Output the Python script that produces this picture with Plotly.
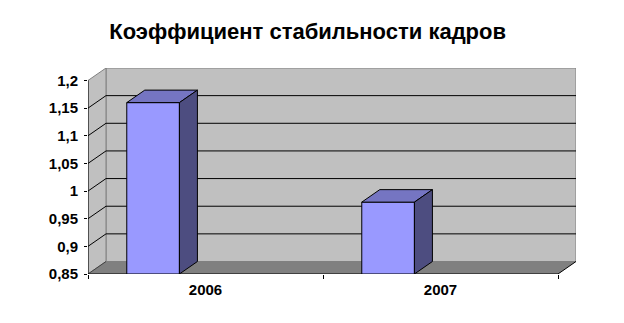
import plotly.graph_objects as go

categories = ["2006", "2007"]
values = [1.16, 0.98]
y_ticks = [0.85, 0.9, 0.95, 1.0, 1.05, 1.1, 1.15, 1.2]
y_labels = ["0,85", "0,9", "0,95", "1", "1,05", "1,1", "1,15", "1,2"]
title_text = "Коэффициент стабильности кадров"

ymin, ymax = y_ticks[0], y_ticks[-1]
ddx, ddy = 0.0766, 0.0226          # 3D depth offsets in data units
xpos = list(range(len(categories)))
x0, x1 = -0.5, len(categories) - 0.5
bar_off, bar_w = -0.335, 0.224

FONT = "Liberation Sans, Arial, sans-serif"

fig = go.Figure()

# front faces
fig.add_trace(go.Bar(
    x=xpos, y=[v - ymin for v in values], base=ymin,
    width=bar_w, offset=bar_off,
    marker=dict(color="#9999ff", line=dict(color="black", width=1)),
    hoverinfo="skip", showlegend=False))

for xi, v in zip(xpos, values):
    L = xi + bar_off
    R = L + bar_w
    fig.add_trace(go.Scatter(
        x=[L, R, R + ddx, L + ddx, L], y=[v, v, v + ddy, v + ddy, v],
        fill="toself", fillcolor="#7575c2", mode="lines",
        line=dict(color="black", width=1), hoverinfo="skip", showlegend=False))
    fig.add_trace(go.Scatter(
        x=[R, R + ddx, R + ddx, R, R], y=[ymin, ymin + ddy, v + ddy, v, ymin],
        fill="toself", fillcolor="#4d4d80", mode="lines",
        line=dict(color="black", width=1), hoverinfo="skip", showlegend=False))

shapes = []
# back wall
shapes.append(dict(type="rect", xref="x", yref="y", layer="below",
                   x0=x0 + ddx, x1=x1 + ddx, y0=ymin + ddy, y1=ymax + ddy,
                   fillcolor="#c0c0c0", line=dict(color="#808080", width=1)))
# side wall
shapes.append(dict(type="path", xref="x", yref="y", layer="below",
                   path=f"M{x0},{ymin} L{x0 + ddx},{ymin + ddy} L{x0 + ddx},{ymax + ddy} L{x0},{ymax} Z",
                   fillcolor="#c0c0c0", line=dict(color="#808080", width=1)))
# gridlines
for t in y_ticks[1:-1]:
    shapes.append(dict(type="line", xref="x", yref="y", layer="below",
                       x0=x0 + ddx, x1=x1 + ddx, y0=t + ddy, y1=t + ddy,
                       line=dict(color="black", width=1)))
    shapes.append(dict(type="line", xref="x", yref="y", layer="below",
                       x0=x0, x1=x0 + ddx, y0=t, y1=t + ddy,
                       line=dict(color="black", width=1)))
# floor
shapes.append(dict(type="path", xref="x", yref="y", layer="below",
                   path=f"M{x0},{ymin} L{x1},{ymin} L{x1 + ddx},{ymin + ddy} L{x0 + ddx},{ymin + ddy} Z",
                   fillcolor="#808080", line=dict(width=0)))
shapes.append(dict(type="line", xref="x", yref="y", layer="below",
                   x0=x0, x1=x0 + ddx, y0=ymin, y1=ymin + ddy,
                   line=dict(color="#404040", width=1)))
# axes lines
shapes.append(dict(type="line", xref="x", yref="y", layer="above",
                   x0=x0, x1=x0, y0=ymin, y1=ymax, line=dict(color="black", width=1)))
shapes.append(dict(type="line", xref="x", yref="y", layer="below",
                   x0=x0, x1=x1, y0=ymin, y1=ymin, line=dict(color="black", width=1)))
shapes.append(dict(type="line", xref="x", yref="y", layer="below",
                   x0=x1, x1=x1 + ddx, y0=ymin, y1=ymin + ddy, line=dict(color="black", width=1)))

fig.update_layout(
    width=624, height=323,
    margin=dict(l=88, r=48, t=68, b=49),
    paper_bgcolor="white", plot_bgcolor="white",
    barmode="overlay",
    shapes=shapes,
    showlegend=False,
    title=dict(text=title_text, x=0.493, xanchor="center", y=1 - 31 / 323, yanchor="middle",
               yref="container",
               font=dict(family=FONT, size=22, color="black", weight="bold")),
    xaxis=dict(range=[x0, x1 + ddx], tickmode="array", tickvals=xpos, ticktext=categories,
               ticks="", showgrid=False, zeroline=False, showline=False,
               ticklabelstandoff=5,
               tickfont=dict(family=FONT, size=15, color="black", weight="bold"),
               minor=dict(tickmode="array", tickvals=[x0 + i for i in range(len(categories) + 1)],
                          ticks="outside", ticklen=4, tickcolor="black", tickwidth=1,
                          showgrid=False),
               fixedrange=True),
    yaxis=dict(range=[ymin, ymax + ddy], tickmode="array", tickvals=y_ticks, ticktext=y_labels,
               ticks="outside", ticklen=3, tickcolor="black", tickwidth=1,
               ticklabelstandoff=3,
               showgrid=False, zeroline=False, showline=False,
               tickfont=dict(family=FONT, size=15, color="black", weight="bold"),
               fixedrange=True),
)

fig.write_html("out.html")
